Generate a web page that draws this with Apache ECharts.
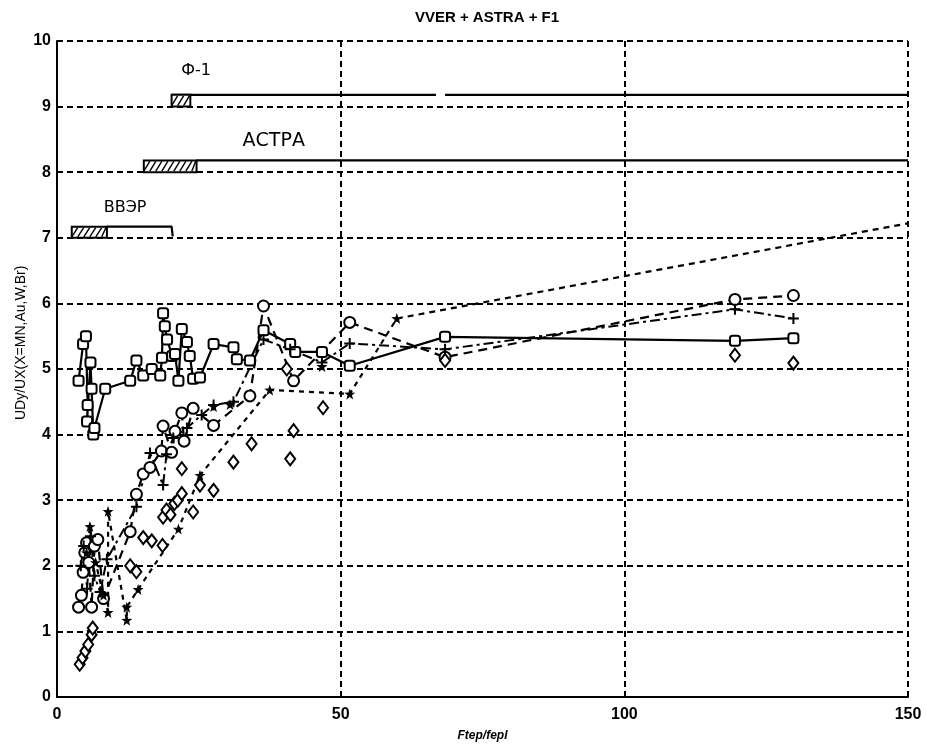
<!DOCTYPE html>
<html><head><meta charset="utf-8">
<script src="https://cdn.jsdelivr.net/npm/echarts@6/dist/echarts.min.js"></script>
<style>html,body{margin:0;padding:0;background:#fff}#c{width:926px;height:747px}</style>
</head><body><div id="c"></div>
<script>
// ---- data ----
const xTicks = [0, 50, 100, 150];
const yTicks = [0,1,2,3,4,5,6,7,8,9,10];
const squares = [[3.8,4.82],[4.6,5.38],[5.1,5.5],[5.4,4.45],[5.3,4.2],[5.9,5.1],[6.1,4.7],[6.4,4.0],[6.6,4.1],[8.5,4.7],[12.9,4.82],[14.0,5.13],[15.2,4.9],[16.7,5.0],[18.2,4.9],[18.5,5.17],[18.7,5.85],[19.0,5.65],[19.4,5.45],[20.3,5.2],[20.8,5.23],[21.4,4.82],[22.0,5.61],[22.9,5.41],[23.4,5.2],[24.0,4.85],[25.2,4.87],[27.6,5.38],[31.1,5.33],[31.7,5.15],[34.0,5.13],[36.4,5.59],[41.1,5.38],[42.0,5.26],[46.7,5.26],[51.6,5.05],[68.4,5.49],[119.5,5.43],[129.8,5.47]];
const circles = [[3.8,1.37],[4.3,1.55],[4.6,1.9],[4.9,2.2],[5.2,2.35],[5.6,2.05],[6.1,1.37],[6.6,2.3],[7.2,2.4],[8.2,1.5],[12.9,2.52],[14.0,3.09],[15.2,3.4],[16.4,3.5],[18.4,3.75],[18.7,4.13],[20.2,3.73],[20.8,4.05],[22.0,4.33],[22.4,3.9],[24.0,4.4],[27.6,4.14],[34.0,4.59],[36.4,5.96],[41.7,4.82],[51.6,5.71],[68.4,5.18],[119.5,6.06],[129.8,6.12]];
const pluses = [[4.2,2.0],[4.7,2.3],[5.3,1.65],[5.9,2.45],[6.6,1.85],[7.6,1.6],[8.8,2.1],[14.0,2.9],[16.4,3.72],[18.7,3.23],[19.3,3.7],[20.5,3.95],[22.9,4.1],[25.5,4.3],[27.6,4.45],[31.1,4.5],[36.4,5.45],[41.1,5.3],[46.7,5.1],[51.6,5.39],[68.4,5.3],[119.5,5.91],[129.8,5.77]];
const stars = [[5.2,2.2],[5.8,2.6],[6.8,2.05],[8.2,1.55],[9.0,1.29],[9.0,2.83],[12.3,1.17],[12.3,1.37],[14.3,1.64],[21.4,2.56],[25.2,3.38],[37.5,4.68],[51.6,4.62],[59.9,5.77]];
const starsExtra = [[27.6,4.43],[30.5,4.46],[46.7,5.04],[6.1,1.0]];
const starTail = [[59.9,5.77],[150,7.22]];
const diamonds = [[4.0,0.5],[4.5,0.6],[5.0,0.7],[5.5,0.8],[6.1,0.95],[6.3,1.05],[12.9,2.0],[14.0,1.91],[15.2,2.43],[16.7,2.38],[18.6,2.31],[18.7,2.74],[19.3,2.85],[20.0,2.78],[20.7,2.95],[21.3,3.0],[22.0,3.1],[24.0,2.82],[25.2,3.23],[27.6,3.15],[22.0,3.48],[31.1,3.58],[34.3,3.86],[41.1,3.63],[41.7,4.06],[46.9,4.41],[40.5,5.0],[68.4,5.13],[119.5,5.21],[129.8,5.09]];
// reference ranges: [x0, x1, yLow, yHigh]
const boxes = [[20.2,23.5,9.0,9.18],[15.3,24.6,8.0,8.18],[2.6,8.8,7.0,7.17]];
const lineF1a = [[20.2,9.18],[66.8,9.18]];
const lineF1b = [[68.4,9.18],[150,9.18]];
const lineAstra = [[24.6,8.18],[150,8.18]];
const lineVver = [[8.8,7.17],[20.2,7.17],[20.4,7.02]];
const labelNames = ['Ф-1','АСТРА','ВВЭР'];
const labelX = [24.5, 38.2, 12.0];
const labelY = [9.55, 8.48, 7.45];
const labelSizes = [16, 19, 16];
const titleText = 'VVER + ASTRA + F1';
const xName = 'Ftep/fepl';
const yName = 'UDy/UX(X=MN,Au,W,Br)';

// ---- chart ----
const chart = echarts.init(document.getElementById('c'), null, {renderer:'canvas'});
const starPath = 'path://M0,-10L2.35,-3.24L9.51,-3.09L3.8,1.24L5.88,8.09L0,4L-5.88,8.09L-3.8,1.24L-9.51,-3.09L-2.35,-3.24Z';
const plusPath = 'path://M0,-6L0,6M-6,0L6,0';
const hollow = {color:'#fff', borderColor:'#000', borderWidth:2, opacity:1};
const font = "'Liberation Sans', Arial, sans-serif";

function refLine(d){ return {type:'line', data:d, symbol:'none', silent:true, lineStyle:{color:'#000', width:2.2}, z:3}; }

const option = {
  animation:false,
  backgroundColor:'#fff',
  title:{text:titleText, left:482, top:5, textAlign:'center', textStyle:{fontFamily:font, fontSize:15, fontWeight:'bold', color:'#000'}},
  grid:{left:57, right:18, top:41, bottom:50},
  xAxis:{type:'value', min:xTicks[0], max:xTicks[xTicks.length-1], interval:50,
    name:xName, nameLocation:'middle', nameGap:33, nameTextStyle:{fontFamily:font, fontSize:12, fontWeight:'bold', fontStyle:'italic', color:'#000'},
    axisLine:{show:true, onZero:false, lineStyle:{color:'#000', width:2}},
    axisTick:{show:false},
    axisLabel:{margin:10, fontFamily:font, fontSize:16, fontWeight:'bold', color:'#000'},
    splitLine:{show:true, lineStyle:{color:'#000', width:2, type:[6,4]}}},
  yAxis:{type:'value', min:yTicks[0], max:yTicks[yTicks.length-1], interval:1,
    axisLine:{show:true, onZero:false, lineStyle:{color:'#000', width:2}},
    axisTick:{show:false},
    axisLabel:{margin:6, fontFamily:font, fontSize:16, fontWeight:'bold', color:'#000'},
    splitLine:{show:true, lineStyle:{color:'#000', width:2, type:[6,4]}}},
  graphic:[{type:'text', x:21, y:420, rotation:Math.PI/2, style:{text:yName, fill:'#000', font:"14px 'Liberation Sans Narrow', 'Liberation Sans', Arial, sans-serif", textAlign:'left', textVerticalAlign:'middle'}}],
  series:[
    refLine(lineF1a), refLine(lineF1b), refLine(lineAstra), refLine(lineVver),
    {type:'custom', data:boxes, silent:true, z:4,
      renderItem:function(params, api){
        const p0 = api.coord([api.value(0), api.value(3)]);
        const p1 = api.coord([api.value(1), api.value(2)]);
        const w = p1[0]-p0[0], h = p1[1]-p0[1];
        const children = [{type:'rect', shape:{x:p0[0], y:p0[1], width:w, height:h}, style:{fill:'#fff', stroke:'#000', lineWidth:2}}];
        for (let k = 4; k < w; k += 6) {
          children.push({type:'line', shape:{x1:p0[0]+k-4, y1:p1[1]-1, x2:Math.min(p0[0]+k+2, p1[0]-1), y2:p0[1]+1}, style:{stroke:'#000', lineWidth:1.4}});
        }
        return {type:'group', children:children};
      }},
    {type:'scatter', silent:true, symbolSize:0, z:5, itemStyle:{opacity:1},
      data: labelNames.map((n,i)=>({name:n, value:[labelX[i], labelY[i]], label:{fontSize:labelSizes[i]}})),
      label:{show:true, position:'inside', formatter:p=>p.name, color:'#000', opacity:1, fontFamily:"'DejaVu Sans', sans-serif", fontSize:16}},
    {type:'line', data:squares, symbol:'roundRect', symbolSize:10, itemStyle:hollow, lineStyle:{color:'#000', width:2.2}, z:6},
    {type:'line', data:circles, symbol:'circle', symbolSize:11, itemStyle:hollow, lineStyle:{color:'#000', width:2.2, type:[9,6]}, z:6},
    {type:'line', data:pluses, symbol:plusPath, symbolSize:11, itemStyle:{color:'#000', borderColor:'#000', borderWidth:2}, lineStyle:{color:'#000', width:2, type:[10,4,3,4]}, z:6},
    {type:'line', data:stars, symbol:starPath, symbolSize:11, itemStyle:{color:'#000'}, lineStyle:{color:'#000', width:2.2, type:[5,5]}, z:6},
    {type:'line', data:starTail, symbol:'none', lineStyle:{color:'#000', width:2.2, type:[6,5]}, z:5},
    {type:'scatter', data:starsExtra, symbol:starPath, symbolSize:11, itemStyle:{color:'#000', opacity:1}, z:6},
    {type:'scatter', data:diamonds, symbol:'diamond', symbolSize:[10,13], itemStyle:hollow, z:6}
  ]
};
chart.setOption(option);
</script></body></html>
